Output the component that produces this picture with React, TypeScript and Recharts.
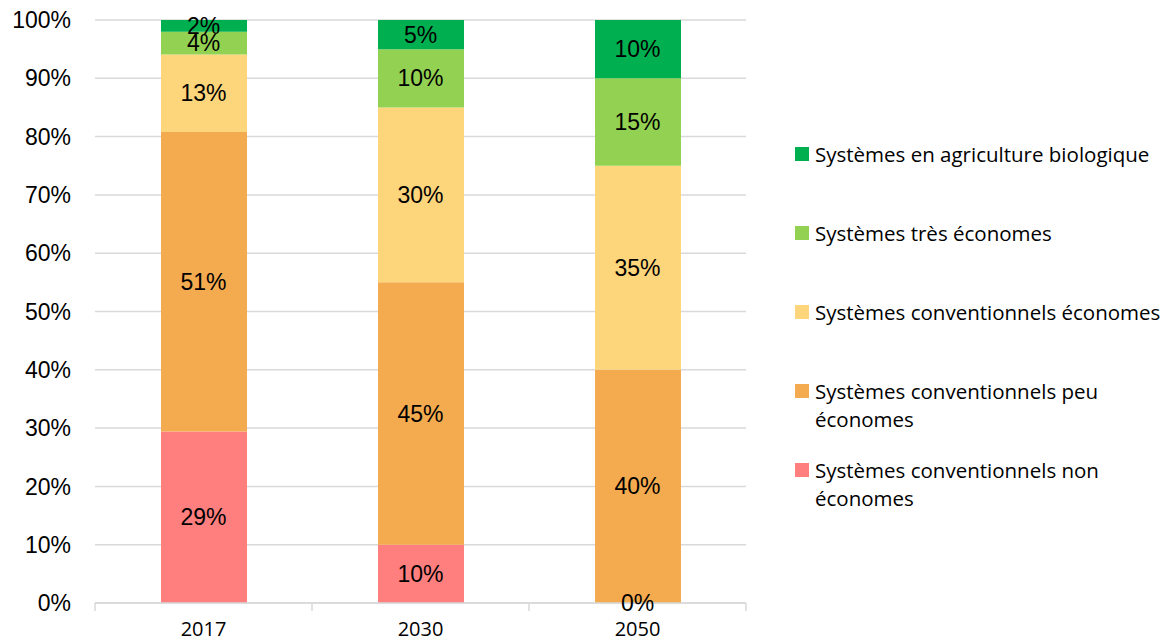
import { Bar, CartesianGrid, ComposedChart, LabelList, Line, XAxis, YAxis } from 'recharts'

const years = ['2017', '2030', '2050']
const nonEconomes = [29.4, 10, 0]
const peuEconomes = [51.4, 45, 40]
const convEconomes = [13.3, 30, 35]
const tresEconomes = [3.9, 10, 15]
const biologique = [2.0, 5, 10]
const yTicks = [0, 10, 20, 30, 40, 50, 60, 70, 80, 90, 100]

const series = [
    { key: 'nonEconomes', name: 'Systèmes conventionnels non économes', color: '#FF7F7F', values: nonEconomes },
    { key: 'peuEconomes', name: 'Systèmes conventionnels peu économes', color: '#F4AB4F', values: peuEconomes },
    { key: 'convEconomes', name: 'Systèmes conventionnels économes', color: '#FDD57B', values: convEconomes },
    { key: 'tresEconomes', name: 'Systèmes très économes', color: '#93D152', values: tresEconomes },
    { key: 'biologique', name: 'Systèmes en agriculture biologique', color: '#00B050', values: biologique },
]

// each row holds the segment values plus the middle of each segment in the stack (used for labels)
const data = years.map((year, i) => {
    const row: Record<string, string | number> = { year }
    let base = 0
    series.forEach((s) => {
        row[s.key] = s.values[i]
        row[s.key + 'Mid'] = base + s.values[i] / 2
        base += s.values[i]
    })
    return row
})

const pct = (v: number) => `${Math.round(v)}%`
const labelFont = '"Liberation Sans", Arial, sans-serif'
const gridColor = '#D9D9D9'

const SegmentLabel = (props: any) => {
    const { x, y, value } = props
    if (value === undefined || value === null) return null
    return (
        <text
            x={Number(x)}
            y={Number(y)}
            textAnchor="middle"
            dominantBaseline="central"
            fill="#000"
            fontSize={23}
            fontFamily={labelFont}
        >
            {pct(Number(value))}
        </text>
    )
}

const TICK_MARGIN = 19

// year label, plus the small tick marks on the category boundaries
const YearTick = (props: any) => {
    const { x, y, payload, index, visibleTicksCount } = props
    const half = Number(payload?.offset) || 0
    const axisY = Number(y) - TICK_MARGIN
    return (
        <g>
            {half > 0 && <line x1={x - half} x2={x - half} y1={axisY} y2={axisY + 8} stroke={gridColor} strokeWidth={1.5} />}
            {half > 0 && index === visibleTicksCount - 1 && (
                <line x1={x + half} x2={x + half} y1={axisY} y2={axisY + 8} stroke={gridColor} strokeWidth={1.5} />
            )}
            <text x={x} y={y} dy="0.71em" textAnchor="middle" fill="#000" fontSize={20} fontFamily='"Open Sans", sans-serif'>
                {payload.value}
            </text>
        </g>
    )
}

const LegendBox = () => (
    <div
        style={{
            position: 'absolute',
            left: 795,
            top: 140,
            width: 374,
            fontFamily: '"Open Sans", sans-serif',
            fontSize: 20.5,
            color: '#000',
        }}
    >
        {[...series].reverse().map((s) => (
            <div key={s.key} style={{ display: 'flex', height: 79, alignItems: 'flex-start' }}>
                <div style={{ width: 14, height: 14, background: s.color, marginTop: 7, marginRight: 6, flex: 'none' }} />
                <div style={{ width: 354, lineHeight: '28px' }}>{s.name}</div>
            </div>
        ))}
    </div>
)

const App = () => {
    return (
        <div style={{ position: 'absolute', left: 0, top: 0, width: 1169, height: 643 }}>
            <ComposedChart width={1169} height={643} data={data} margin={{ top: 20, right: 423, bottom: 0, left: 0 }} barSize={86}>
                <CartesianGrid vertical={false} stroke={gridColor} strokeWidth={1.5} />
                <XAxis
                    dataKey="year"
                    height={40}
                    stroke={gridColor}
                    strokeWidth={1.5}
                    tickLine={false}
                    tickSize={0}
                    tickMargin={TICK_MARGIN}
                    tick={<YearTick />}
                    interval={0}
                />
                <YAxis
                    width={95}
                    domain={[0, 100]}
                    ticks={yTicks}
                    interval={0}
                    tickFormatter={pct}
                    axisLine={false}
                    tickLine={false}
                    tickSize={0}
                    tickMargin={24}
                    tick={{ fill: '#000', fontSize: 23, fontFamily: labelFont }}
                />
                {series.map((s) => (
                    <Bar key={s.key} dataKey={s.key} name={s.name} stackId="a" fill={s.color} isAnimationActive={false} />
                ))}
                {series.map((s) => (
                    <Line
                        key={s.key + 'Label'}
                        dataKey={s.key + 'Mid'}
                        stroke="none"
                        dot={false}
                        activeDot={false}
                        legendType="none"
                        isAnimationActive={false}
                    >
                        <LabelList dataKey={s.key} content={SegmentLabel} />
                    </Line>
                ))}
            </ComposedChart>
            <LegendBox />
        </div>
    )
}

export default App
